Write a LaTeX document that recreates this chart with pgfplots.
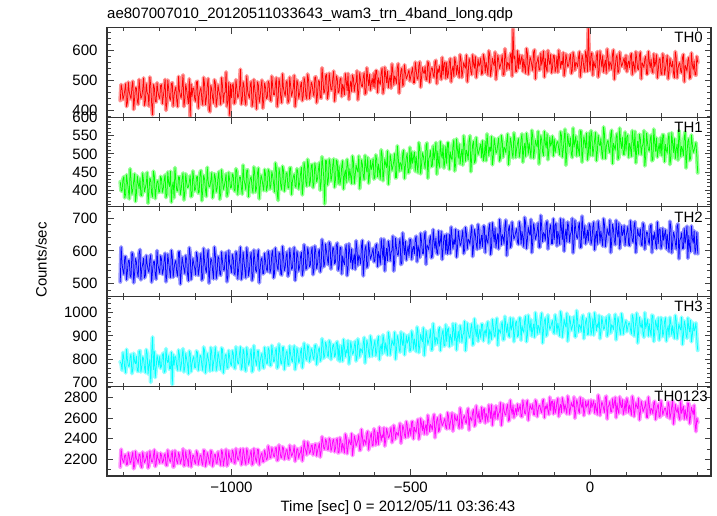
\documentclass[border=0pt]{standalone}
\usepackage{fontspec}
\setmainfont{Liberation Sans}
\usepackage{pgfplots}
\usepackage{pgfplotstable}
\pgfplotsset{compat=1.18}
\definecolor{cR}{RGB}{255,0,0}
\definecolor{cG}{RGB}{0,255,0}
\definecolor{cB}{RGB}{0,0,255}
\definecolor{cC}{RGB}{0,255,255}
\definecolor{cM}{RGB}{255,0,255}

\pgfplotstableread{
t a b c d e
-1310 433 423 506 788 2125
-1305 471 398 561 752 2214
-1300 448 437 529 803 2168
-1295 489 389 583 741 2242
-1290 427 421 538 796 2151
-1285 462 376 572 768 2230
-1280 438 430 519 821 2176
-1275 497 402 590 754 2271
-1270 441 445 533 789 2140
-1265 475 391 566 812 2205
-1260 420 418 521 747 2162
-1255 468 432 604 836 2248
-1250 446 385 547 766 2119
-1245 508 424 578 801 2226
-1240 431 407 526 742 2187
-1235 459 449 559 823 2265
-1230 414 396 535 775 2138
-1225 482 428 588 700 2219
-1220 385 381 541 895 2174
-1215 476 439 569 834 2293
-1210 428 403 514 761 2151
-1205 463 426 557 798 2207
-1200 439 397 532 812 2163
-1195 486 431 575 769 2236
-1190 447 405 541 826 2181
-1185 503 442 593 748 2254
-1180 425 388 528 794 2140
-1175 471 419 566 815 2218
-1170 434 452 519 759 2173
-1165 492 409 582 690 2279
-1160 450 379 547 773 2129
-1155 478 427 571 807 2225
-1150 412 398 523 752 2158
-1145 465 436 598 819 2241
-1140 441 403 535 771 2187
-1135 518 447 562 845 2302
-1130 436 392 531 763 2146
-1125 469 421 574 800 2212
-1120 422 409 509 736 2135
-1115 380 440 587 824 2268
-1110 445 386 538 781 2177
-1105 473 428 560 811 2231
-1100 430 404 527 764 2155
-1095 497 438 581 829 2259
-1090 451 395 545 779 2190
-1085 476 454 592 813 2243
-1080 418 400 518 751 2141
-1075 488 431 566 837 2284
-1070 439 383 534 772 2168
-1065 506 425 603 806 2237
-1060 395 411 542 748 2152
-1055 471 448 571 829 2276
-1050 424 397 515 785 2183
-1045 493 436 589 852 2247
-1040 437 405 537 769 2161
-1035 465 451 578 811 2225
-1030 419 389 526 754 2139
-1025 482 430 568 842 2266
-1020 456 412 541 778 2192
-1015 528 445 596 821 2298
-1010 431 394 523 763 2154
-1005 383 427 560 807 2215
-1000 442 408 534 772 2176
-995 489 441 578 826 2268
-990 428 397 527 759 2159
-985 474 452 591 814 2245
-980 449 415 545 781 2193
-975 537 436 612 853 2301
-970 433 389 529 767 2165
-965 481 429 570 831 2259
-960 418 401 518 748 2148
-955 467 456 584 819 2272
-950 441 418 541 786 2204
-945 496 437 595 842 2287
-940 427 393 523 755 2158
-935 472 446 571 808 2246
-930 404 406 536 773 2171
-925 485 461 603 836 2294
-920 445 411 546 791 2209
-915 501 432 579 824 2263
-910 436 399 531 761 2176
-905 476 444 568 813 2249
-900 444 409 538 780 2206
-895 490 451 589 839 2297
-890 431 414 545 772 2219
-885 478 439 601 825 2282
-880 452 395 531 791 2224
-875 509 461 576 848 2316
-870 437 372 542 768 2195
-865 486 444 592 831 2289
-860 425 402 527 779 2213
-855 473 455 584 852 2308
-850 448 417 551 796 2238
-845 499 448 597 836 2296
-840 433 406 533 774 2201
-835 482 462 581 819 2283
-830 459 425 548 788 2247
-825 517 444 611 857 2331
-820 441 408 539 781 2226
-815 488 451 585 829 2298
-810 456 419 552 794 2254
-805 494 463 596 847 2319
-800 447 418 541 789 2237
-795 493 459 599 841 2312
-790 438 411 548 796 2243
-785 501 466 593 852 2329
-780 459 424 557 808 2271
-775 485 471 611 837 2340
-770 447 419 544 798 2262
-765 512 458 597 861 2348
-760 455 432 560 812 2283
-755 498 476 605 849 2357
-750 441 421 552 803 2276
-745 506 467 616 868 2369
-740 462 362 563 815 2298
-735 521 481 598 857 2375
-730 455 426 558 809 2292
-725 497 473 621 872 2389
-720 468 439 571 826 2311
-715 531 486 609 863 2394
-710 462 428 566 818 2305
-705 505 478 624 875 2402
-700 462 467 548 861 2268
-695 508 431 611 809 2379
-690 487 481 585 791 2356
-685 452 442 558 851 2262
-680 498 421 619 840 2417
-675 523 466 546 880 2316
-670 477 459 592 808 2363
-665 463 418 606 851 2451
-660 507 478 573 827 2311
-655 486 441 544 877 2393
-650 532 457 604 806 2356
-645 464 494 588 867 2440
-640 500 435 560 845 2290
-635 479 471 632 826 2420
-630 525 429 571 893 2391
-625 459 464 616 821 2343
-620 507 490 556 863 2473
-615 520 443 598 810 2376
-610 491 457 584 879 2456
-605 479 486 608 843 2336
-600 475 435 570 881 2465
-595 533 483 621 833 2375
-590 509 472 598 898 2344
-585 486 430 559 847 2454
-580 541 497 609 821 2438
-575 475 451 636 880 2508
-570 517 471 585 871 2383
-565 531 508 570 817 2461
-560 501 447 618 895 2421
-555 474 482 595 846 2510
-550 529 465 645 868 2388
-545 515 501 570 916 2498
-540 490 435 610 839 2463
-535 556 491 587 885 2430
-530 500 477 637 830 2551
-525 541 455 563 877 2424
-520 488 510 616 910 2502
-515 526 467 630 850 2409
-510 513 501 598 868 2533
-505 535 449 585 905 2472
-500 514 460 634 840 2432
-495 543 474 605 902 2568
-490 492 505 591 887 2513
-485 535 494 645 832 2462
-480 504 448 618 920 2590
-475 562 516 580 861 2440
-470 511 471 628 887 2537
-465 528 494 591 935 2571
-460 546 460 658 855 2504
-455 501 530 619 901 2443
-450 557 486 603 879 2571
-445 521 509 646 926 2540
-440 541 467 582 840 2484
-435 510 483 629 912 2638
-430 567 531 639 894 2510
-425 539 508 590 866 2606
-420 548 463 614 937 2486
-415 503 500 659 882 2575
-410 519 523 606 926 2545
-405 561 479 648 858 2598
-400 560 473 651 875 2496
-395 524 531 607 934 2621
-390 573 506 592 907 2549
-385 534 483 642 861 2653
-380 513 538 634 920 2532
-375 559 472 666 952 2586
-370 551 513 606 892 2624
-365 510 527 641 874 2501
-360 570 497 621 931 2658
-355 532 469 663 903 2580
-350 548 524 603 963 2626
-345 585 510 654 874 2550
-340 525 484 636 920 2696
-335 561 550 620 893 2616
-330 519 494 677 952 2576
-325 555 535 614 866 2685
-320 580 481 650 928 2536
-315 533 519 605 945 2638
-310 547 506 663 907 2670
-305 575 527 632 891 2565
-300 525 536 612 949 2589
-295 572 495 676 914 2695
-290 561 481 649 898 2647
-285 518 527 623 961 2567
-280 585 519 683 929 2672
-275 539 548 610 884 2730
-270 558 492 655 941 2624
-265 595 525 670 897 2593
-260 533 506 636 976 2694
-255 568 544 606 930 2646
-250 550 489 666 911 2752
-245 585 535 650 961 2596
-240 519 519 622 885 2678
-235 574 503 694 941 2631
-230 560 555 632 952 2736
-225 538 498 677 895 2585
-220 592 530 617 924 2695
-215 672 489 659 976 2726
-210 582 541 643 913 2659
-205 530 514 668 963 2632
-200 540 542 620 902 2666
-195 553 505 672 978 2733
-190 583 555 660 945 2615
-185 571 515 612 915 2713
-180 524 493 685 985 2641
-175 591 538 634 899 2774
-170 546 531 656 952 2659
-165 568 489 696 970 2697
-160 533 548 628 930 2738
-155 602 510 665 894 2634
-150 557 526 646 965 2762
-145 579 562 685 946 2678
-140 536 502 611 912 2724
-135 551 537 672 998 2652
-130 598 495 656 924 2783
-125 574 530 632 977 2718
-120 529 555 691 907 2740
-115 565 507 643 956 2636
-110 587 521 680 937 2673
-105 542 549 622 966 2768
-100 583 541 634 910 2768
-95 542 520 684 971 2682
-90 527 534 660 955 2795
-85 573 497 620 899 2703
-80 564 551 669 985 2653
-75 593 511 696 925 2756
-70 537 568 644 950 2738
-65 569 503 628 997 2641
-60 550 529 675 916 2777
-55 587 544 651 961 2689
-50 532 490 699 937 2724
-45 578 518 623 983 2807
-40 561 549 662 896 2669
-35 545 536 638 967 2749
-30 596 495 686 948 2650
-25 539 562 612 919 2731
-20 571 508 664 989 2788
-15 529 532 677 932 2678
-10 581 557 644 975 2708
-5 675 500 630 906 2772
0 534 495 675 976 2672
5 591 548 634 923 2702
10 566 515 688 903 2771
15 542 559 644 963 2743
20 596 505 620 952 2635
25 529 527 670 989 2789
30 570 542 661 916 2686
35 583 487 615 958 2736
40 552 554 680 933 2656
45 524 519 638 981 2815
50 578 537 654 910 2711
55 563 503 694 970 2762
60 537 565 628 948 2663
65 602 529 666 927 2697
70 545 510 619 993 2805
75 585 556 658 919 2750
80 531 490 685 961 2647
85 568 533 632 906 2730
90 554 545 647 974 2780
95 575 498 677 937 2677
100 584 507 643 966 2653
105 556 552 674 938 2759
110 542 529 616 956 2730
115 590 493 662 908 2629
120 564 538 626 977 2779
125 529 562 689 925 2671
130 571 514 632 998 2714
135 536 499 649 913 2795
140 595 542 667 946 2650
145 559 520 616 966 2727
150 543 564 676 894 2684
155 581 495 635 931 2763
160 521 530 655 970 2607
165 563 508 620 953 2731
170 570 552 680 899 2696
175 525 485 649 986 2643
180 546 532 657 915 2765
185 586 544 607 946 2662
190 536 513 622 978 2737
195 573 500 667 903 2613
200 520 495 618 964 2717
205 573 552 632 915 2666
210 539 526 664 978 2698
215 583 502 651 926 2611
220 528 556 598 897 2734
225 550 489 672 955 2640
230 564 529 622 944 2770
235 509 542 646 889 2618
240 575 511 606 965 2677
245 540 483 682 915 2710
250 559 536 632 934 2584
255 525 521 655 980 2647
260 587 495 608 902 2717
265 551 560 623 946 2685
270 531 502 675 890 2590
275 577 542 647 935 2742
280 511 488 598 967 2617
285 553 525 637 904 2670
290 565 510 661 921 2727
295 518 531 610 956 2470
300 560 448 592 838 2560
}\lca

\pgfplotstableread{
t a b c d e
-1307.5 486 398 612 781 2298
-1302.5 436 430 540 828 2182
-1297.5 466 379 582 762 2242
-1292.5 413 442 512 842 2145
-1287.5 494 400 570 771 2264
-1282.5 448 459 526 807 2161
-1277.5 479 389 595 738 2231
-1272.5 403 425 503 825 2108
-1267.5 476 369 577 780 2278
-1262.5 431 439 534 750 2193
-1257.5 503 404 592 834 2249
-1252.5 440 386 512 745 2138
-1247.5 469 447 559 810 2270
-1242.5 416 396 518 764 2166
-1237.5 489 419 586 841 2217
-1232.5 452 364 543 736 2115
-1227.5 511 433 574 798 2280
-1222.5 422 391 505 825 2175
-1217.5 486 452 566 755 2234
-1212.5 430 377 530 721 2130
-1207.5 492 424 601 816 2264
-1202.5 447 394 545 768 2191
-1197.5 483 438 585 761 2260
-1192.5 422 394 529 817 2165
-1187.5 472 428 573 743 2236
-1182.5 400 380 506 845 2141
-1177.5 501 450 590 785 2290
-1172.5 441 410 541 757 2188
-1167.5 489 367 602 830 2247
-1162.5 414 423 520 820 2125
-1157.5 468 462 565 812 2285
-1152.5 432 399 534 768 2179
-1147.5 513 437 597 839 2266
-1142.5 449 388 499 752 2158
-1137.5 480 431 581 815 2228
-1132.5 413 373 546 745 2135
-1127.5 487 445 586 825 2282
-1122.5 444 407 530 777 2196
-1117.5 505 423 610 835 2285
-1112.5 488 382 513 746 2125
-1107.5 475 453 577 802 2241
-1102.5 438 398 548 763 2171
-1097.5 494 436 596 835 2282
-1092.5 407 392 526 751 2146
-1087.5 467 448 573 816 2236
-1082.5 435 371 511 772 2167
-1077.5 510 441 608 852 2290
-1072.5 419 401 545 740 2130
-1067.5 483 463 587 825 2265
-1062.5 403 409 502 781 2175
-1057.5 483 427 577 850 2285
-1052.5 441 379 539 751 2130
-1047.5 502 445 612 808 2245
-1042.5 413 395 515 750 2162
-1037.5 485 435 583 829 2274
-1032.5 449 375 530 774 2190
-1027.5 509 456 597 848 2290
-1022.5 427 402 543 740 2137
-1017.5 461 426 578 817 2233
-1012.5 413 383 506 761 2135
-1007.5 493 449 601 837 2283
-1002.5 488 406 553 779 2203
-997.5 483 445 589 836 2289
-992.5 422 402 532 766 2169
-987.5 502 459 598 853 2305
-982.5 442 388 515 782 2199
-977.5 474 436 575 825 2267
-972.5 420 408 513 755 2145
-967.5 495 469 596 843 2303
-962.5 433 417 542 760 2181
-957.5 515 454 610 850 2305
-952.5 451 382 524 775 2164
-947.5 485 432 580 818 2252
-942.5 413 407 510 745 2145
-937.5 503 464 603 858 2305
-932.5 444 395 541 790 2198
-927.5 495 447 587 835 2295
-922.5 427 376 503 753 2145
-917.5 480 441 574 812 2246
-912.5 407 414 531 769 2176
-907.5 491 457 593 851 2289
-902.5 439 398 545 783 2194
-897.5 497 457 600 849 2330
-892.5 437 403 534 772 2212
-887.5 514 451 591 859 2313
-882.5 453 418 518 790 2231
-877.5 487 475 609 835 2307
-872.5 412 390 551 761 2187
-867.5 506 460 595 865 2340
-862.5 442 412 530 783 2222
-857.5 522 466 614 850 2321
-852.5 459 397 540 755 2198
-847.5 492 447 583 828 2289
-842.5 425 407 523 776 2213
-837.5 511 461 607 857 2337
-832.5 447 388 544 798 2230
-827.5 477 437 587 839 2277
-822.5 412 412 510 755 2180
-817.5 501 459 599 848 2304
-812.5 440 403 539 785 2211
-807.5 481 444 582 831 2268
-802.5 432 387 525 762 2183
-797.5 509 476 619 869 2377
-792.5 449 422 544 802 2280
-787.5 521 485 610 860 2370
-782.5 439 413 552 788 2258
-777.5 494 468 598 845 2333
-772.5 460 407 528 807 2243
-767.5 509 474 615 858 2345
-762.5 425 423 546 776 2233
-757.5 499 457 595 840 2318
-752.5 443 400 536 791 2221
-747.5 542 492 635 888 2421
-742.5 458 432 552 804 2305
-737.5 515 482 621 873 2397
-732.5 438 414 575 818 2297
-727.5 524 486 627 880 2405
-722.5 469 425 545 798 2279
-717.5 507 469 610 858 2380
-712.5 430 408 561 810 2272
-707.5 515 483 617 869 2388
-702.5 459 418 541 795 2262
-697.5 503 416 610 790 2411
-692.5 446 466 530 860 2275
-687.5 475 403 567 885 2315
-682.5 523 456 602 810 2446
-677.5 466 485 525 826 2254
-672.5 436 427 622 779 2394
-667.5 498 438 564 875 2342
-662.5 518 494 546 821 2237
-657.5 463 418 591 855 2428
-652.5 493 469 631 792 2331
-647.5 435 450 556 887 2388
-642.5 526 404 579 809 2288
-637.5 482 483 615 840 2492
-632.5 511 439 524 867 2333
-627.5 454 496 606 783 2379
-622.5 542 450 549 881 2451
-617.5 482 419 627 828 2291
-612.5 467 482 575 900 2427
-607.5 507 466 596 812 2332
-602.5 525 431 567 861 2497
-597.5 533 497 616 814 2338
-592.5 459 437 552 879 2465
-587.5 493 454 584 797 2514
-582.5 525 511 637 865 2380
-577.5 456 426 574 904 2410
-572.5 544 486 539 829 2329
-567.5 492 462 608 843 2500
-562.5 476 416 630 916 2408
-557.5 517 498 570 817 2469
-552.5 555 454 602 883 2363
-547.5 485 479 539 859 2531
-542.5 506 434 639 799 2397
-537.5 541 522 589 901 2451
-532.5 457 452 622 844 2504
-527.5 532 472 559 917 2356
-522.5 481 501 655 859 2530
-517.5 552 432 588 818 2438
-512.5 505 490 572 901 2568
-507.5 525 448 616 880 2416
-502.5 498 518 636 834 2504
-497.5 528 506 574 921 2565
-492.5 492 490 614 842 2398
-487.5 561 452 635 864 2476
-482.5 507 469 567 938 2552
-477.5 550 531 602 828 2395
-472.5 477 445 654 907 2599
-467.5 543 503 593 875 2479
-462.5 523 476 644 815 2444
-457.5 502 522 559 922 2541
-452.5 563 433 612 864 2629
-447.5 493 493 633 897 2470
-442.5 542 465 579 839 2519
-437.5 518 522 665 953 2601
-432.5 561 504 606 861 2410
-427.5 489 444 595 887 2584
-422.5 527 476 661 926 2468
-417.5 516 534 630 836 2633
-412.5 577 488 574 912 2527
-407.5 558 461 645 857 2573
-402.5 506 520 593 948 2513
-397.5 509 531 591 928 2655
-392.5 559 457 651 853 2499
-387.5 495 490 673 891 2602
-382.5 548 522 607 953 2474
-377.5 577 453 620 879 2638
-372.5 520 541 581 839 2574
-367.5 530 488 661 920 2534
-362.5 586 472 616 945 2701
-357.5 510 513 644 873 2504
-352.5 560 550 592 912 2612
-347.5 541 480 672 836 2562
-342.5 495 501 606 955 2667
-337.5 573 535 631 897 2484
-332.5 529 451 655 934 2595
-327.5 586 526 583 860 2657
-322.5 541 475 665 974 2522
-317.5 509 545 620 896 2722
-312.5 572 498 681 876 2597
-307.5 556 518 608 928 2564
-302.5 520 490 648 951 2708
-297.5 587 481 676 878 2683
-292.5 526 534 595 926 2552
-287.5 543 555 631 949 2619
-282.5 599 495 667 869 2730
-277.5 514 507 589 911 2598
-272.5 574 470 686 971 2530
-267.5 549 543 627 900 2672
-262.5 503 502 610 959 2720
-257.5 584 527 654 859 2593
-252.5 540 480 696 921 2662
-247.5 564 551 618 948 2529
-242.5 518 491 641 883 2739
-237.5 606 514 677 984 2637
-232.5 535 535 586 913 2705
-227.5 555 470 667 901 2573
-222.5 584 544 610 978 2776
-217.5 514 502 688 942 2637
-212.5 572 558 636 875 2604
-207.5 529 490 657 959 2696
-202.5 599 528 627 896 2738
-197.5 586 491 689 978 2698
-192.5 569 540 621 881 2616
-187.5 530 477 639 924 2774
-182.5 546 529 702 966 2649
-177.5 607 557 607 875 2747
-172.5 520 499 673 989 2579
-167.5 578 510 647 920 2733
-162.5 550 565 595 899 2685
-157.5 595 488 683 951 2637
-152.5 505 538 635 1000 2777
-147.5 564 519 662 907 2615
-142.5 535 472 611 934 2726
-137.5 591 550 708 979 2671
-132.5 572 505 628 869 2769
-127.5 511 562 651 965 2604
-122.5 542 516 683 899 2690
-117.5 600 484 606 990 2666
-112.5 553 546 668 928 2806
-107.5 525 530 622 953 2763
-102.5 583 494 698 918 2641
-97.5 528 504 680 991 2651
-92.5 581 532 615 911 2763
-87.5 601 513 646 932 2616
-82.5 541 561 698 1005 2735
-77.5 552 491 634 893 2800
-72.5 515 543 599 971 2666
-67.5 588 469 667 938 2690
-62.5 546 554 688 877 2816
-57.5 571 520 627 983 2639
-52.5 523 500 658 924 2753
-47.5 594 571 594 955 2708
-42.5 534 534 693 896 2600
-37.5 556 494 642 1009 2779
-32.5 577 511 674 916 2675
-27.5 511 564 610 941 2804
-22.5 585 477 706 979 2699
-17.5 543 547 638 888 2625
-12.5 598 516 621 962 2768
-7.5 530 483 664 906 2729
-2.5 567 558 683 996 2645
2.5 592 564 620 905 2778
7.5 517 495 673 974 2739
12.5 550 538 603 1000 2649
17.5 581 481 660 922 2685
22.5 511 551 691 936 2826
27.5 598 522 626 888 2626
32.5 545 503 638 983 2760
37.5 528 574 698 928 2695
42.5 568 487 613 961 2799
47.5 605 533 668 898 2592
52.5 534 509 647 991 2727
57.5 554 554 595 912 2661
62.5 588 473 681 941 2790
67.5 503 520 631 968 2745
72.5 577 545 693 883 2605
77.5 525 485 642 979 2676
82.5 595 571 607 924 2810
87.5 547 515 676 996 2702
92.5 566 499 656 907 2637
97.5 538 560 617 955 2771
102.5 529 548 659 918 2796
107.5 565 490 619 954 2653
112.5 581 517 692 928 2689
117.5 519 564 632 991 2815
122.5 550 506 677 899 2616
127.5 596 475 595 966 2752
132.5 539 535 667 869 2693
137.5 584 554 644 980 2583
142.5 505 498 619 934 2767
147.5 552 527 685 908 2663
152.5 571 467 605 1000 2716
157.5 521 557 658 952 2609
162.5 597 512 630 899 2807
167.5 542 540 675 921 2641
172.5 531 481 595 989 2684
177.5 589 568 635 876 2749
182.5 560 507 622 966 2586
187.5 508 491 688 925 2715
192.5 571 529 666 881 2615
197.5 522 546 607 979 2772
202.5 589 553 669 897 2632
207.5 520 478 650 961 2694
212.5 562 510 606 877 2650
217.5 505 541 623 944 2758
222.5 574 471 690 980 2596
227.5 545 558 594 904 2714
232.5 525 504 657 916 2542
237.5 596 487 625 988 2735
242.5 508 527 675 887 2656
247.5 554 564 576 952 2609
252.5 531 492 639 925 2770
257.5 576 512 607 863 2684
262.5 495 546 668 964 2590
267.5 542 461 646 905 2627
272.5 566 534 578 977 2749
277.5 506 482 612 917 2546
282.5 592 552 676 875 2707
287.5 535 504 623 955 2633
292.5 519 522 592 933 2557
297.5 580 494 656 885 2600
}\lcb

\pgfplotstablevertcat{\lca}{\lcb}
\pgfplotstablesort[sort key=t]{\lc}{\lca}

\pgfplotsset{
  panel/.style={
    anchor=south west, at={(107bp,#1)},
    width=604bp, height=89.7bp, scale only axis,
    xmin=-1347, xmax=337,
    xtick={-1000,-500,0}, minor xtick={-1300,-1200,...,300},
    xticklabels={},
    tick align=inside, tick pos=both,
    major tick length=6.5bp, minor tick length=3.7bp,
    axis line style={line width=1.1bp, black!80},
    every tick/.append style={line width=0.9bp, black!75},
    /pgf/number format/assume math mode=true,
    /pgf/number format/1000 sep={},
    tick label style={font=\fontsize{15bp}{18bp}\selectfont},
    yticklabel style={xshift=-6bp},
    xticklabel style={yshift=-2.3bp},
    axis on top,
  },
  halo/.style={line width=4bp, line join=round, line cap=round},
  dat/.style={line width=0.75bp, line join=round},
}

\begin{document}
\begin{tikzpicture}[font=\fontsize{15bp}{18bp}\selectfont]
\useasboundingbox (0,0) rectangle (717bp,516bp);

\begin{axis}[panel=398.8bp, ymin=377, ymax=677,
  ytick={400,500,600}, minor ytick={380,400,...,660}]
\addplot[cR!42, halo] table[x=t, y=a] {\lc};
\addplot[cR, dat] table[x=t, y=a] {\lc};
\end{axis}

\begin{axis}[panel=309.1bp, ymin=354, ymax=601,
  ytick={400,450,...,600}, minor ytick={360,370,...,600}]
\addplot[cG!42, halo] table[x=t, y=b] {\lc};
\addplot[cG, dat] table[x=t, y=b] {\lc};
\end{axis}

\begin{axis}[panel=219.4bp, ymin=461, ymax=734,
  ytick={500,600,700}, minor ytick={480,500,...,720}]
\addplot[cB!42, halo] table[x=t, y=c] {\lc};
\addplot[cB, dat] table[x=t, y=c] {\lc};
\end{axis}

\begin{axis}[panel=129.7bp, ymin=683, ymax=1069,
  ytick={700,800,900,1000}, minor ytick={700,720,...,1060}]
\addplot[cC!42, halo] table[x=t, y=d] {\lc};
\addplot[cC, dat] table[x=t, y=d] {\lc};
\end{axis}

\begin{axis}[panel=40bp, ymin=2037, ymax=2911,
  ytick={2200,2400,2600,2800}, minor ytick={2100,2200,...,2900},
  xticklabels={−1000,−500,0}]
\addplot[cM!42, halo] table[x=t, y=e] {\lc};
\addplot[cM, dat] table[x=t, y=e] {\lc};
\end{axis}

\node[anchor=base west, inner sep=0pt] at (107bp,497bp) {ae807007010\_20120511033643\_wam3\_trn\_4band\_long.qdp};
\node[anchor=base east, inner sep=0pt] at (703bp,473.3bp) {TH0};
\node[anchor=base east, inner sep=0pt] at (703bp,383.5bp) {TH1};
\node[anchor=base east, inner sep=0pt] at (703bp,293.8bp) {TH2};
\node[anchor=base east, inner sep=0pt] at (703bp,204.1bp) {TH3};
\node[anchor=base east, inner sep=0pt] at (708bp,114.3bp) {TH0123};
\node[rotate=90, anchor=base, inner sep=0pt] at (46.5bp,256bp) {Counts/sec};
\node[anchor=base, inner sep=0pt] at (398bp,4.3bp) {Time [sec] 0 = 2012/05/11 03:36:43};
\end{tikzpicture}
\end{document}
